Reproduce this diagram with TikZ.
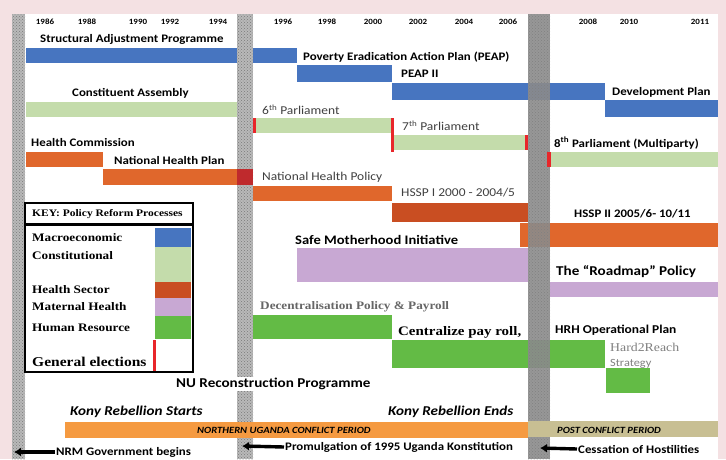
\documentclass[tikz,border=0pt]{standalone}
\usepackage{fontspec}
\setmainfont{Carlito}[FakeStretch=1.12]
\newfontfamily\keyfont{Liberation Serif}[FakeStretch=1.15]
\usetikzlibrary{patterns,arrows.meta}

\definecolor{pagebg}{HTML}{F4E1E3}
\definecolor{macro}{HTML}{4775C0}
\definecolor{consti}{HTML}{C4DCAB}
\definecolor{health}{HTML}{E0672C}
\definecolor{hsspdark}{HTML}{C94E22}
\definecolor{maternal}{HTML}{C8A8D3}
\definecolor{hr}{HTML}{63BB45}
\definecolor{elect}{HTML}{E8262A}
\definecolor{conflict}{HTML}{F59A41}
\definecolor{postconf}{HTML}{C8BF93}
\definecolor{darkred}{HTML}{BF2A2D}

\begin{document}
\begin{tikzpicture}[x=1pt,y=-1pt,
    lbl/.style={anchor=west,inner sep=0pt,font=\bfseries\fontsize{11.5}{12}\selectfont},
    thin lbl/.style={anchor=west,inner sep=0pt,text=black!75,font=\fontsize{12}{13}\selectfont},
    big lbl/.style={lbl,font=\bfseries\fontsize{13.5}{14}\selectfont},
    yr/.style={inner sep=0pt,font=\bfseries\fontsize{8}{9}\selectfont},
    keytxt/.style={anchor=west,inner sep=0pt,font=\keyfont\bfseries\fontsize{11.5}{12}\selectfont},
    period/.style={anchor=west,inner sep=0pt,font=\bfseries\itshape\fontsize{9.5}{10}\selectfont},
    kony/.style={anchor=west,inner sep=0pt,font=\bfseries\itshape\fontsize{13.5}{14}\selectfont},
    event/.style={lbl,fill=white,inner sep=1pt},
    tick/.style={fill=elect},
    keybox/.style={draw=black,line width=2.6pt},
    marker/.style={line width=3.4pt,-{Latex[length=7pt,width=9pt]}}]
    %%%%% START %%%%%

    % page and panel
    \fill[pagebg] (0,0) rectangle (726,459);
    \fill[white] (12,14) rectangle (718,459);

    % years
    \foreach \yx/\yl in {45/1986,87/1988,138/1990,170/1992,218/1994,283/1996,327/1998,373/2000,
        418/2002,464/2004,508/2006,588/2008,629/2010,700/2011}
        \node[yr] (y\yl) at (\yx,22) {\yl};

    % macroeconomic
    \fill[macro] (26,48) rectangle (237,63);
    \fill[macro] (253,48) rectangle (297,63);
    \fill[macro] (297,65) rectangle (392,82);
    \fill[macro] (392,83) rectangle (605,100);
    \fill[macro] (605,100) rectangle (718,117);
    \node[lbl] (sap) at (40,39) {Structural Adjustment Programme};
    \node[lbl] (peap) at (303,57) {Poverty Eradication Action Plan (PEAP)};
    \node[lbl] (peap2) at (401,74) {PEAP II};
    \node[lbl] (dev) at (612,92) {Development Plan};

    % constitutional
    \fill[consti] (26,102) rectangle (237,117);
    \fill[consti] (253,118) rectangle (392,133);
    \fill[consti] (393,135) rectangle (527,150);
    \fill[consti] (550,152) rectangle (718,167);
    \node[lbl] (ca) at (72,93) {Constituent Assembly};
    \node[thin lbl] (p6) at (262,110) {6\textsuperscript{th} Parliament};
    \node[thin lbl] (p7) at (402,126) {7\textsuperscript{th} Parliament};
    \node[lbl] (p8) at (554,143) {8\textsuperscript{th} Parliament (Multiparty)};

    % health sector
    \fill[health] (26,152) rectangle (103,167);
    \fill[health] (103,169) rectangle (237,185);
    \fill[health] (253,186) rectangle (392,201);
    \fill[hsspdark] (392,203) rectangle (528,222);
    \fill[health] (520,223) rectangle (718,247);
    \node[lbl] (hc) at (31,143) {Health Commission};
    \node[lbl] (nhp) at (114,160) {National Health Plan};
    \node[thin lbl] (nhpol) at (262,177) {National Health Policy};
    \node[thin lbl] (hssp1) at (401,193) {HSSP I 2000 - 2004/5};
    \node[lbl] (hssp2) at (574,214) {HSSP II 2005/6- 10/11};

    % maternal health
    \fill[maternal] (297,248) rectangle (528,282);
    \fill[maternal] (550,282) rectangle (718,297);
    \node[lbl,font=\bfseries\fontsize{13}{14}\selectfont] (smi) at (295,240) {Safe Motherhood Initiative};
    \node[big lbl] (road) at (556,272) {The “Roadmap” Policy};

    % human resource
    \fill[hr] (253,315) rectangle (392,339);
    \fill[hr] (392,340) rectangle (605,368);
    \fill[hr] (606,368) rectangle (650,393);
    \node[keytxt,text=black!60] (dec) at (260,307) {Decentralisation Policy \& Payroll};
    \node[keytxt,font=\keyfont\bfseries\fontsize{13}{14}\selectfont] (cpr) at (398,332) {Centralize pay roll,};
    \node[lbl,font=\bfseries\fontsize{12}{13}\selectfont] (hrh) at (555,330) {HRH Operational Plan};
    \node[anchor=west,inner sep=0pt,text=black!50,font=\keyfont\fontsize{12}{13}\selectfont] (h2r) at (610,347) {Hard2Reach};
    \node[thin lbl,text=black!50,font=\fontsize{11}{12}\selectfont] (strat) at (610,364) {Strategy};

    % hatched dividers
    \foreach \xa/\xb/\sh/\dt in {12/25/60/95,237/253/60/95,528/550/90/100}{
        \fill[gray!\sh,fill opacity=0.9] (\xa,14) rectangle (\xb,459);
        \fill[pattern=crosshatch dots,pattern color=gray!\dt!black] (\xa,14) rectangle (\xb,459);
    }
    \fill[darkred] (237,169) rectangle (253,185);

    % elections
    \fill[tick] (253,118) rectangle (256,133);
    \fill[tick] (391,118) rectangle (394,152);
    \fill[tick] (525,135) rectangle (528,150);
    \fill[tick] (547,152) rectangle (551,167);

    \node[big lbl,fill=white,inner sep=1pt] (nur) at (175,384) {NU Reconstruction Programme};

    % conflict periods
    \fill[conflict] (65,422) rectangle (528,438);
    \fill[postconf] (528,421) rectangle (718,437);
    \node[period] (nucp) at (197,430) {NORTHERN UGANDA CONFLICT PERIOD};
    \node[period] (pcp) at (557,430) {POST CONFLICT PERIOD};
    \node[kony] (krs) at (70,412) {Kony Rebellion Starts};
    \node[kony] (kre) at (388,412) {Kony Rebellion Ends};

    % milestones
    \node[event] (nrm) at (55,452) {NRM Government begins};
    \node[event] (prom) at (284,447) {Promulgation of 1995 Uganda Konstitution};
    \node[event] (cess) at (577,449) {Cessation of Hostilities};
    \coordinate (nrmend) at (14,452);
    \coordinate (promend) at (242,446);
    \coordinate (cessend) at (540,448);
    \draw[marker] (nrm.west) -- (nrmend);
    \draw[marker] (prom.west) -- (promend);
    \draw[marker] (cess.west) -- (cessend);

    % key
    \fill[white] (25,203) rectangle (193,372);
    \fill[macro] (155,228) rectangle (191,247);
    \fill[consti] (155,247) rectangle (191,282);
    \fill[hsspdark] (155,282) rectangle (191,298);
    \fill[maternal] (155,298) rectangle (191,316);
    \fill[hr] (155,316) rectangle (191,339);
    \fill[tick] (153,340) rectangle (156,371);
    \draw[keybox] (25,203) rectangle (193,224);
    \draw[keybox] (25,225) rectangle (193,372);
    \node[keytxt,font=\keyfont\bfseries\fontsize{10}{11}\selectfont] (keyhead) at (32,214) {KEY: Policy Reform Processes};
    \node[keytxt] (kmac) at (32,238) {Macroeconomic};
    \node[keytxt] (kcon) at (32,256) {Constitutional};
    \node[keytxt] (khs) at (32,290) {Health Sector};
    \node[keytxt] (kmh) at (32,307) {Maternal Health};
    \node[keytxt] (khr) at (32,328) {Human Resource};
    \node[keytxt,font=\keyfont\bfseries\fontsize{13.5}{14}\selectfont] (kge) at (32,362) {General elections};

    %%%%% END %%%%%
\end{tikzpicture}
\end{document}
